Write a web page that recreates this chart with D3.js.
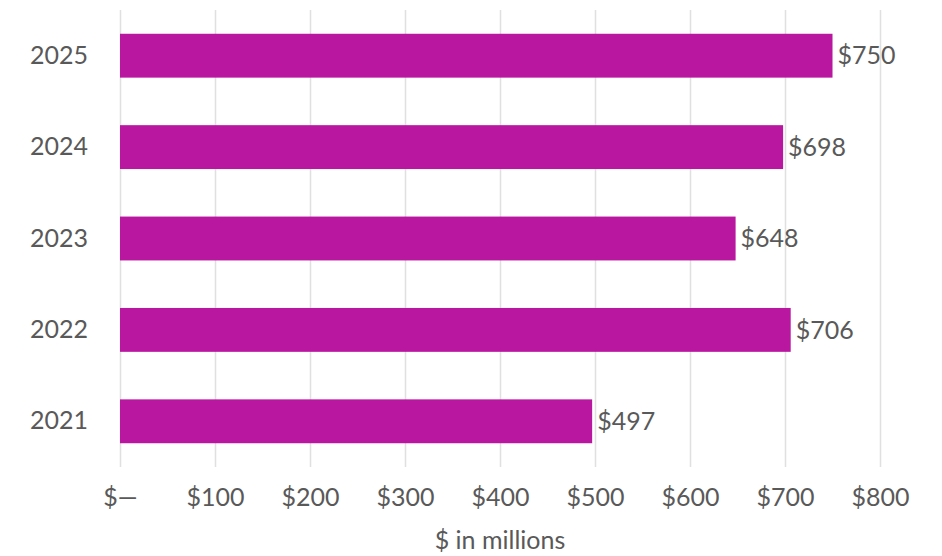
<!DOCTYPE html>
<html>
<head>
<meta charset="utf-8">
<script src="https://cdn.jsdelivr.net/npm/d3@7"></script>
<style>
  body { margin: 0; background: #fff; }
  svg text { font-family: Lato, "Open Sans", sans-serif; fill: #595959; }
</style>
</head>
<body>
<div id="chart"></div>
<script>
// data
var years = ["2025", "2024", "2023", "2022", "2021"];
var amounts = [750, 698, 648, 706, 497];
var tickValues = [0, 100, 200, 300, 400, 500, 600, 700, 800];
var xTitle = "$ in millions";

var W = 942, H = 556;
var margin = {top: 10, right: 62, bottom: 89, left: 120};
var w = W - margin.left - margin.right;
var h = H - margin.top - margin.bottom;

var data = years.map(function(y, i) { return {year: y, value: amounts[i]}; });

var svg = d3.select("#chart").append("svg")
  .attr("width", W)
  .attr("height", H);

var g = svg.append("g")
  .attr("transform", "translate(" + margin.left + "," + margin.top + ")");

var xScale = d3.scaleLinear().domain([0, 800]).range([0, w]);
var yScale = d3.scaleBand().domain(years).range([0, h]).paddingInner(0.52).paddingOuter(0.26);

// gridlines
g.selectAll("line.grid")
  .data(tickValues)
  .enter()
  .append("line")
  .attr("class", "grid")
  .attr("x1", function(d) { return Math.round(xScale(d)) + 0.5; })
  .attr("x2", function(d) { return Math.round(xScale(d)) + 0.5; })
  .attr("y1", 0)
  .attr("y2", h)
  .attr("stroke", "#e0e0e0")
  .attr("stroke-width", 1.5);

// x axis labels
var xAxis = d3.axisBottom(xScale)
  .tickValues(tickValues)
  .tickSize(0)
  .tickPadding(21)
  .tickFormat(function(d) { return d === 0 ? "$\u2014" : "$" + d; });

var xg = g.append("g")
  .attr("transform", "translate(0," + h + ")")
  .call(xAxis);
xg.select(".domain").remove();
xg.selectAll("text")
  .attr("font-size", 25)
  .attr("font-family", null)
  .attr("fill", null);

// y axis labels
var yAxis = d3.axisLeft(yScale).tickSize(0).tickPadding(32);
var yg = g.append("g").call(yAxis);
yg.select(".domain").remove();
yg.selectAll("text")
  .attr("font-size", 25)
  .attr("font-family", null)
  .attr("fill", null);

// bars
g.selectAll("rect.bar")
  .data(data)
  .enter()
  .append("rect")
  .attr("class", "bar")
  .attr("x", xScale(0))
  .attr("y", function(d) { return yScale(d.year); })
  .attr("width", function(d) { return xScale(d.value); })
  .attr("height", yScale.bandwidth())
  .attr("fill", "#BA17A1");

// value labels
g.selectAll("text.val")
  .data(data)
  .enter()
  .append("text")
  .attr("class", "val")
  .attr("x", function(d) { return xScale(d.value) + 5; })
  .attr("y", function(d) { return yScale(d.year) + yScale.bandwidth() / 2; })
  .attr("dy", "0.35em")
  .attr("font-size", 25)
  .text(function(d) { return "$" + d.value; });

// axis title
svg.append("text")
  .attr("x", margin.left + w / 2)
  .attr("y", 549)
  .attr("text-anchor", "middle")
  .attr("font-size", 25)
  .text(xTitle);
</script>
</body>
</html>
